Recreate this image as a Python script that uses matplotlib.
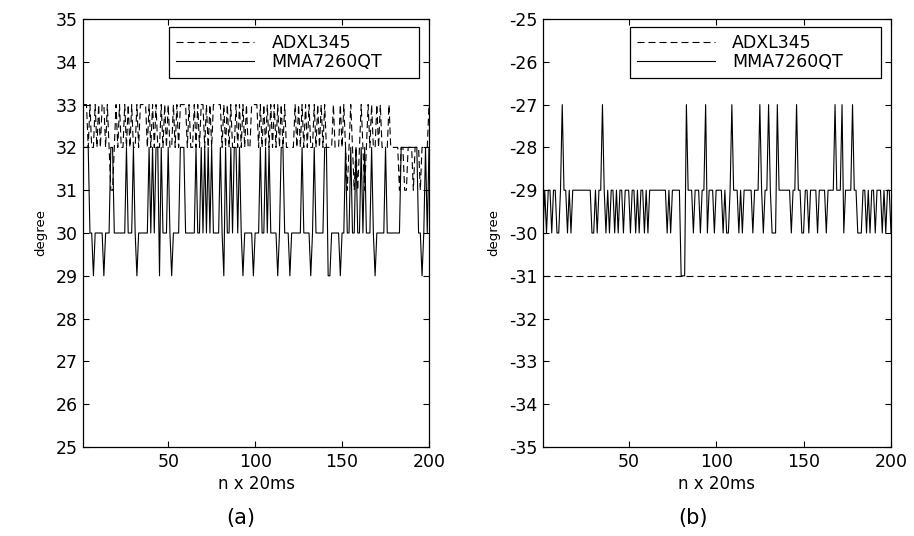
import matplotlib.pyplot as plt

plt.rcParams['font.family'] = 'DejaVu Sans'
plt.rcParams['axes.unicode_minus'] = False

# sample index (one sample every 20 ms)
n = list(range(1, 201))

# (a) roll angle, degree
adxl_a = [33, 33, 33, 32, 33, 32, 32, 33, 32, 33, 32, 33, 33, 32, 33, 32, 31, 31, 32, 33,
          32, 33, 32, 32, 33, 32, 33, 32, 33, 32, 32, 33, 32, 33, 33, 33, 33, 32, 33, 32,
          33, 32, 33, 32, 32, 33, 32, 33, 32, 33, 32, 32, 33, 32, 33, 32, 33, 33, 33, 33,
          32, 33, 32, 32, 33, 32, 33, 32, 33, 33, 32, 33, 32, 33, 32, 33, 33, 33, 33, 33,
          32, 33, 32, 33, 32, 33, 32, 32, 33, 32, 33, 32, 33, 32, 33, 32, 32, 33, 33, 33,
          33, 32, 33, 32, 33, 32, 33, 32, 33, 32, 33, 32, 33, 32, 33, 32, 33, 32, 32, 32,
          32, 32, 33, 32, 33, 32, 33, 32, 33, 32, 33, 32, 32, 33, 32, 33, 32, 33, 32, 33,
          32, 32, 32, 32, 33, 32, 32, 32, 33, 32, 33, 32, 31, 32, 33, 32, 31, 32, 31, 32,
          33, 32, 31, 32, 33, 32, 33, 32, 32, 33, 32, 33, 32, 32, 32, 32, 33, 32, 32, 32,
          32, 32, 31, 32, 32, 31, 31, 32, 32, 32, 31, 32, 32, 32, 31, 32, 32, 32, 32, 33]

mma_a = [32, 32, 32, 32, 30, 30, 29, 30, 30, 30, 30, 30, 29, 30, 30, 30, 32, 32, 30, 30,
         30, 30, 30, 30, 30, 32, 30, 30, 30, 32, 30, 29, 30, 30, 30, 30, 30, 30, 32, 30,
         32, 30, 32, 32, 29, 32, 30, 30, 30, 32, 30, 29, 30, 30, 30, 30, 32, 32, 32, 30,
         30, 30, 30, 30, 30, 32, 30, 30, 32, 30, 32, 30, 32, 30, 32, 30, 30, 30, 30, 32,
         30, 29, 32, 30, 30, 32, 30, 32, 32, 30, 32, 30, 29, 30, 30, 30, 30, 30, 29, 30,
         30, 30, 32, 30, 30, 32, 30, 32, 30, 30, 30, 30, 29, 30, 32, 32, 30, 30, 30, 29,
         30, 30, 30, 30, 30, 30, 32, 30, 30, 30, 30, 29, 30, 32, 30, 30, 30, 30, 30, 32,
         32, 29, 29, 30, 30, 30, 30, 30, 29, 30, 30, 32, 30, 30, 32, 30, 30, 32, 30, 30,
         32, 30, 32, 30, 30, 30, 32, 30, 29, 30, 30, 30, 30, 30, 32, 30, 30, 30, 30, 30,
         30, 30, 30, 32, 32, 32, 32, 32, 32, 32, 32, 32, 32, 30, 30, 29, 30, 32, 30, 32]

# (b) pitch angle, degree
adxl_b = [-31, -31, -31, -31, -31, -31, -31, -31, -31, -31, -31, -31, -31, -31, -31, -31, -31, -31, -31, -31,
          -31, -31, -31, -31, -31, -31, -31, -31, -31, -31, -31, -31, -31, -31, -31, -31, -31, -31, -31, -31,
          -31, -31, -31, -31, -31, -31, -31, -31, -31, -31, -31, -31, -31, -31, -31, -31, -31, -31, -31, -31,
          -31, -31, -31, -31, -31, -31, -31, -31, -31, -31, -31, -31, -31, -31, -31, -31, -31, -31, -31, -31,
          -31, -31, -31, -31, -31, -31, -31, -31, -31, -31, -31, -31, -31, -31, -31, -31, -31, -31, -31, -31,
          -31, -31, -31, -31, -31, -31, -31, -31, -31, -31, -31, -31, -31, -31, -31, -31, -31, -31, -31, -31,
          -31, -31, -31, -31, -31, -31, -31, -31, -31, -31, -31, -31, -31, -31, -31, -31, -31, -31, -31, -31,
          -31, -31, -31, -31, -31, -31, -31, -31, -31, -31, -31, -31, -31, -31, -31, -31, -31, -31, -31, -31,
          -31, -31, -31, -31, -31, -31, -31, -31, -31, -31, -31, -31, -31, -31, -31, -31, -31, -31, -31, -31,
          -31, -31, -31, -31, -31, -31, -31, -31, -31, -31, -31, -31, -31, -31, -31, -31, -31, -31, -31, -31]

mma_b = [-30, -29, -30, -29, -29, -30, -29, -29, -30, -30, -29, -27, -29, -29, -30, -29, -30, -29, -29, -29,
         -29, -29, -29, -29, -29, -29, -29, -29, -30, -30, -29, -30, -29, -29, -27, -29, -30, -29, -30, -29,
         -29, -30, -29, -30, -29, -29, -30, -29, -29, -29, -30, -29, -29, -30, -29, -30, -29, -29, -30, -29,
         -30, -29, -29, -29, -29, -29, -29, -29, -29, -29, -29, -30, -29, -30, -29, -29, -29, -29, -29, -31,
         -31, -31, -27, -29, -29, -29, -30, -29, -29, -29, -30, -29, -29, -27, -30, -29, -29, -29, -30, -29,
         -29, -29, -29, -30, -29, -30, -30, -29, -27, -29, -29, -29, -30, -29, -30, -29, -29, -29, -29, -29,
         -30, -29, -29, -29, -27, -29, -30, -29, -29, -27, -29, -30, -30, -30, -27, -29, -29, -29, -29, -29,
         -29, -29, -30, -29, -29, -27, -29, -29, -30, -30, -29, -29, -30, -29, -29, -29, -29, -30, -29, -29,
         -29, -29, -30, -29, -29, -29, -29, -27, -29, -29, -29, -27, -30, -29, -29, -29, -29, -27, -29, -29,
         -30, -30, -30, -29, -29, -30, -29, -30, -29, -29, -30, -29, -29, -29, -30, -29, -30, -29, -29, -30]

yticks_a = [25, 26, 27, 28, 29, 30, 31, 32, 33, 34, 35]
yticks_b = [-35, -34, -33, -32, -31, -30, -29, -28, -27, -26, -25]
xticks = [50, 100, 150, 200]

W, H = 914, 536
fig = plt.figure(figsize=(W / 100, H / 100), dpi=100)
ax1 = fig.add_axes([83 / W, 1 - 447 / H, 346 / W, 428 / H])
ax2 = fig.add_axes([543 / W, 1 - 447 / H, 348 / W, 428 / H])


def panel(ax, adxl, mma, yticks, tag, tag_x):
    ax.plot(n, adxl, color='k', lw=0.8, dashes=(6.3, 3.6), label='ADXL345')
    ax.plot(n, mma, color='k', lw=0.8, label='MMA7260QT')
    ax.set_xlim(1, 200)
    ax.set_ylim(yticks[0], yticks[-1])
    ax.set_xticks(xticks)
    ax.set_yticks(yticks)
    ax.tick_params(direction='in', top=True, right=True, length=4,
                   width=0.8, labelsize=12.5, pad=4)
    for s in ax.spines.values():
        s.set_linewidth(0.9)
    ax.set_xlabel('n x 20ms', fontsize=12, labelpad=3)
    ax.set_ylabel('degree', fontsize=9.5, labelpad=6)
    # legend box stretched to the width used in the original
    leg = ax.legend(loc='upper left', bbox_to_anchor=(0.249, 0.5, 0.722, 0.481),
                    mode='expand', borderaxespad=0, fontsize=12.5,
                    handlelength=4.5, handletextpad=1.0,
                    fancybox=False, edgecolor='k', framealpha=1,
                    borderpad=0.4, labelspacing=0.05)
    leg.get_frame().set_linewidth(0.9)
    ax.text(tag_x, -0.165, tag, transform=ax.transAxes, fontsize=15,
            ha='center', va='center')


panel(ax1, adxl_a, mma_a, yticks_a, '(a)', 0.455)
panel(ax2, adxl_b, mma_b, yticks_b, '(b)', 0.43)

fig.savefig('out.png', dpi=100)
